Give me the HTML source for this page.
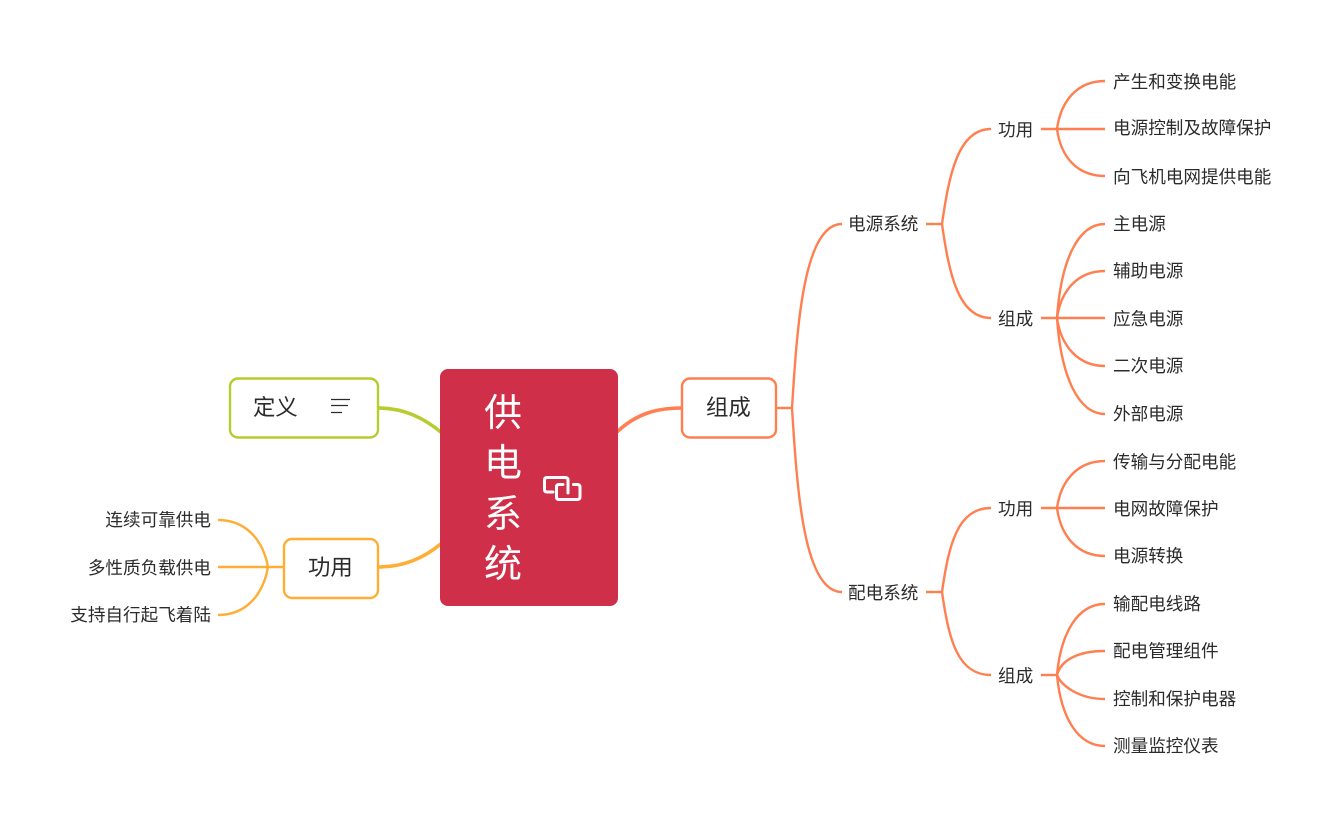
<!DOCTYPE html>
<html lang="zh"><head><meta charset="utf-8"><title>供电系统</title>
<style>
html,body{margin:0;padding:0;background:#fff;width:1341px;height:827px;overflow:hidden}
svg{display:block}
text{font-family:"Liberation Sans","Noto Sans CJK SC",sans-serif;fill:#2b2b2b}
.s{font-size:17.6px}
.m{font-size:22.4px}
.r{font-size:38px;fill:#fff}
.o{fill:none;stroke:#ff7f50;stroke-width:2.4}
.y{fill:none;stroke:#ffae35;stroke-width:2.4}
</style></head><body>
<svg width="1341" height="827" viewBox="0 0 1341 827" xmlns="http://www.w3.org/2000/svg">
<!-- main connectors -->
<path d="M378 408C404 408 424 418 442 433" fill="none" stroke="#b7cc2e" stroke-width="3.6"/>
<path d="M378 567C404 567 424 558 442 543" fill="none" stroke="#ffae35" stroke-width="3.6"/>
<path d="M617 432C636 414 656 408 682 408" fill="none" stroke="#ff7f50" stroke-width="3.6"/>
<!-- right branches -->
<g class="o">
<path d="M776 408H792"/>
<path d="M792 408C797 330 803 224 842 224"/>
<path d="M792 408C797 486 803 592 842 592"/>
<path d="M926 224H942"/>
<path d="M942 224C949 175 958 129 991 129"/>
<path d="M942 224C949 273 958 318 991 318"/>
<path d="M1041 129H1105"/>
<path d="M1057 129C1061 100 1078 81 1105 81"/>
<path d="M1057 129C1061 158 1078 176 1105 176"/>
<path d="M1041 318H1105"/>
<path d="M1057 318C1061 260 1078 224 1105 224"/>
<path d="M1057 318C1061 290 1078 271 1105 271"/>
<path d="M1057 318C1061 346 1078 366 1105 366"/>
<path d="M1057 318C1061 376 1078 414 1105 414"/>
<path d="M926 592H942"/>
<path d="M942 592C949 543 958 508 991 508"/>
<path d="M942 592C949 641 958 675 991 675"/>
<path d="M1041 508H1105"/>
<path d="M1057 508C1061 480 1078 461 1105 461"/>
<path d="M1057 508C1061 537 1078 556 1105 556"/>
<path d="M1041 675H1057"/>
<path d="M1057 675C1061 632 1078 604 1105 604"/>
<path d="M1057 675C1061 660 1078 651 1105 651"/>
<path d="M1057 675C1061 685 1078 699 1105 699"/>
<path d="M1057 675C1061 718 1078 746 1105 746"/>
</g>
<!-- left branches -->
<g class="y">
<path d="M284 567H218"/>
<path d="M268 567C263 540 246 520 218 520"/>
<path d="M268 567C263 595 246 615 218 615"/>
</g>
<!-- boxes -->
<rect x="440" y="369" width="178" height="237" rx="8" fill="#cf2f48"/>
<rect x="230" y="378.500" width="148" height="59" rx="8" fill="#fff" stroke="#b7cc2e" stroke-width="2.400"/>
<rect x="284" y="539" width="94" height="59" rx="8" fill="#fff" stroke="#ffae35" stroke-width="2.400"/>
<rect x="682" y="378.500" width="94" height="59" rx="8" fill="#fff" stroke="#ff7f50" stroke-width="2.400"/>
<!-- root text -->
<text class="r" x="484" y="426">供</text>
<text class="r" x="484" y="476">电</text>
<text class="r" x="484" y="527">系</text>
<text class="r" x="484" y="577">统</text>
<!-- link icon -->
<g fill="none" stroke="#fff" stroke-width="3" stroke-linejoin="round" stroke-linecap="round">
<path d="M553 492H547Q544.500 492 544.500 489.500V480Q544.500 477.500 547 477.500H565Q568 477.500 568 480V493"/>
<path d="M573.500 484.500H577Q580 484.500 580 487V497Q580 499.500 577 499.500H559Q556.500 499.500 556.500 497V487Q556.500 484.500 559 484.500H563"/>
</g>
<!-- note icon -->
<g stroke="#2b2b2b" stroke-width="1.300">
<path d="M331 399.500H350M331 405.500H348M331 412.500H342"/>
</g>
<!-- main labels -->
<text class="m" x="253" y="415">定义</text>
<text class="m" x="308" y="575">功用</text>
<text class="m" x="706" y="415">组成</text>
<!-- level 2/3 -->
<g class="s">
<text x="848" y="230">电源系统</text>
<text x="848" y="599">配电系统</text>
<text x="998" y="136">功用</text>
<text x="998" y="325">组成</text>
<text x="998" y="515">功用</text>
<text x="998" y="682">组成</text>
<text x="1113" y="88">产生和变换电能</text>
<text x="1113" y="134">电源控制及故障保护</text>
<text x="1113" y="183">向飞机电网提供电能</text>
<text x="1113" y="230">主电源</text>
<text x="1113" y="277">辅助电源</text>
<text x="1113" y="325">应急电源</text>
<text x="1113" y="372">二次电源</text>
<text x="1113" y="420">外部电源</text>
<text x="1113" y="468">传输与分配电能</text>
<text x="1113" y="515">电网故障保护</text>
<text x="1113" y="562">电源转换</text>
<text x="1113" y="610">输配电线路</text>
<text x="1113" y="657">配电管理组件</text>
<text x="1113" y="705">控制和保护电器</text>
<text x="1113" y="752">测量监控仪表</text>
<text x="211" y="526" text-anchor="end">连续可靠供电</text>
<text x="211" y="574" text-anchor="end">多性质负载供电</text>
<text x="211" y="621" text-anchor="end">支持自行起飞着陆</text>
</g>
</svg>
</body></html>
